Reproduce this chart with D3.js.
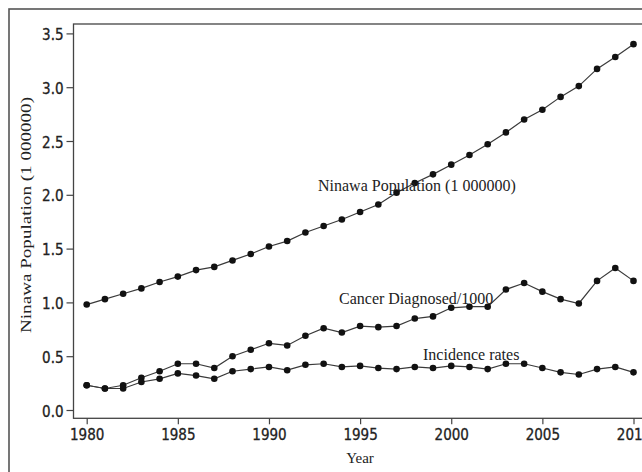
<!DOCTYPE html>
<html>
<head>
<meta charset="utf-8">
<script src="https://cdn.jsdelivr.net/npm/d3@7/dist/d3.min.js"></script>
<style>
  html, body { margin: 0; padding: 0; background: #fff; }
  svg { display: block; }
  .serif { font-family: "Liberation Serif", "Times New Roman", serif; fill: #222; }
</style>
</head>
<body>
<svg id="chart" width="642" height="472"></svg>
<script>
// Yearly series, 1980–2010
const years = d3.range(1980, 2011);

const population = [0.98, 1.03, 1.08, 1.13, 1.19, 1.24, 1.30, 1.33, 1.39, 1.45,
  1.52, 1.57, 1.65, 1.71, 1.77, 1.84, 1.91, 2.02, 2.11, 2.19,
  2.28, 2.37, 2.47, 2.58, 2.70, 2.79, 2.91, 3.01, 3.17, 3.28, 3.40];

const cancerDiagnosed = [0.23, 0.20, 0.23, 0.30, 0.36, 0.43, 0.43, 0.39, 0.50, 0.56,
  0.62, 0.60, 0.69, 0.76, 0.72, 0.78, 0.77, 0.78, 0.85, 0.87,
  0.95, 0.96, 0.96, 1.12, 1.18, 1.10, 1.03, 0.99, 1.20, 1.32, 1.20];

const incidenceRates = [0.23, 0.20, 0.20, 0.26, 0.29, 0.34, 0.32, 0.29, 0.36, 0.38,
  0.40, 0.37, 0.42, 0.43, 0.40, 0.41, 0.39, 0.38, 0.40, 0.39,
  0.41, 0.40, 0.38, 0.43, 0.43, 0.39, 0.35, 0.33, 0.38, 0.40, 0.35];

const xTicks = [1980, 1985, 1990, 1995, 2000, 2005, 2010];
const yTicks = [0, 0.5, 1, 1.5, 2, 2.5, 3, 3.5];

const seriesLabels = ["Ninawa Population (1 000000)", "Cancer Diagnosed/1000", "Incidence rates"];
const xTitle = "Year";
const yTitle = "Ninawa Population (1 000000)";

const svg = d3.select("#chart");

// plot box geometry
const box = { left: 73.5, top: 24, right: 660, bottom: 418.3 };

const x = d3.scaleLinear().domain([1980, 2010]).range([86.7, 633.5]);
const y = d3.scaleLinear().domain([0, 3.5]).range([410, 33.4]);

// outer frame
svg.append("rect")
  .attr("x", 9).attr("y", 9)
  .attr("width", 660).attr("height", 480)
  .attr("fill", "none").attr("stroke", "#555").attr("stroke-width", 1.6);

// plot box
svg.append("rect")
  .attr("x", box.left).attr("y", box.top)
  .attr("width", box.right - box.left).attr("height", box.bottom - box.top)
  .attr("fill", "none").attr("stroke", "#444").attr("stroke-width", 1.3);

// axes
const yAxis = svg.append("g")
  .attr("transform", `translate(${box.left},0)`)
  .call(d3.axisLeft(y).tickValues(yTicks).tickFormat(d3.format(".1f")).tickSize(7).tickPadding(3));
const xAxis = svg.append("g")
  .attr("transform", `translate(0,${box.bottom})`)
  .call(d3.axisBottom(x).tickValues(xTicks).tickFormat(d3.format("d")).tickSize(6).tickPadding(5));
[yAxis, xAxis].forEach(g => {
  g.select(".domain").remove();
  g.selectAll(".tick line").attr("stroke", "#444").attr("stroke-width", 1.2);
  g.selectAll(".tick text")
    .attr("font-family", "'DejaVu Sans Condensed', 'DejaVu Sans', sans-serif")
    .attr("font-size", 15)
    .attr("fill", "#222")
    .attr("stroke", "#222")
    .attr("stroke-width", 0.3);
});
yAxis.selectAll(".tick text").attr("dy", "0.4em");
xAxis.selectAll(".tick text").attr("dy", "0.72em");

// series lines and markers
const line = d3.line().x((d, i) => x(years[i])).y(d => y(d));
[population, cancerDiagnosed, incidenceRates].forEach(vals => {
  svg.append("path")
    .datum(vals)
    .attr("d", line)
    .attr("fill", "none")
    .attr("stroke", "#3a3a3a")
    .attr("stroke-width", 1.2);
  svg.append("g").selectAll("circle")
    .data(vals)
    .join("circle")
    .attr("cx", (d, i) => x(years[i]))
    .attr("cy", d => y(d))
    .attr("r", 3.3)
    .attr("fill", "#111");
});

// in-plot series labels
const labelPos = [
  { x: 318, y: 191 },
  { x: 339, y: 304 },
  { x: 423, y: 360 }
];
seriesLabels.forEach((t, i) => {
  svg.append("text")
    .attr("class", "serif")
    .attr("x", labelPos[i].x)
    .attr("y", labelPos[i].y)
    .attr("font-size", 16)
    .text(t);
});

// axis titles
svg.append("text")
  .attr("class", "serif")
  .attr("x", 360).attr("y", 463)
  .attr("text-anchor", "middle")
  .attr("font-size", 15)
  .text(xTitle);

svg.append("text")
  .attr("class", "serif")
  .attr("transform", "translate(31,215) rotate(-90)")
  .attr("text-anchor", "middle")
  .attr("font-size", 15)
  .attr("textLength", 236)
  .attr("lengthAdjust", "spacingAndGlyphs")
  .text(yTitle);
</script>
</body>
</html>
